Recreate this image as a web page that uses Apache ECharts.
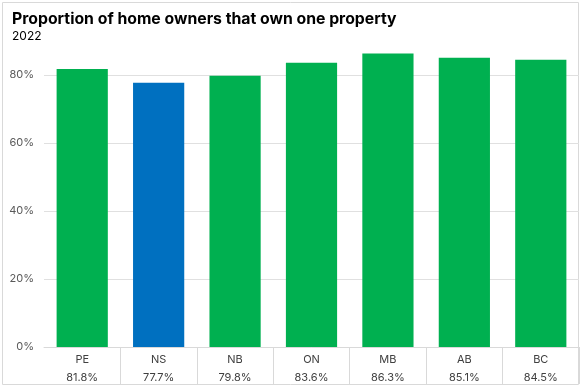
<!DOCTYPE html>
<html><head><meta charset="utf-8">
<script src="https://cdn.jsdelivr.net/npm/echarts@6/dist/echarts.min.js"></script>
<style>html,body{margin:0;padding:0;background:#fff}#c{width:581px;height:387px}</style>
</head><body><div id="c"></div>
<script>
const categories = ['PE','NS','NB','ON','MB','AB','BC'];
const values = [81.8, 77.7, 79.8, 83.6, 86.3, 85.1, 84.5];
const highlight = 'NS';
const yTicks = [0, 20, 40, 60, 80];

const chart = echarts.init(document.getElementById('c'), null, {renderer:'canvas'});
const font = 'Inter, "Noto Sans", sans-serif';
chart.setOption({
  animation: false,
  textStyle: {fontFamily: font},
  title: {
    text: 'Proportion of home owners that own one property',
    subtext: '2022',
    left: 7, top: 6, itemGap: 3,
    textStyle: {fontSize: 15.8, fontWeight: 'bold', color: '#000', fontFamily: font},
    subtextStyle: {fontSize: 12, color: '#000', fontFamily: font}
  },
  graphic: [{type:'rect', shape:{x:2.5,y:2.5,width:576,height:382}, style:{fill:'none', stroke:'#d9d9d9', lineWidth:1}, silent:true}],
  grid: {left: 44, right: 2, top: 41, bottom: 38},
  xAxis: {
    type: 'category', data: categories,
    axisLine: {show: true, lineStyle: {color: '#d9d9d9'}},
    axisTick: {show: true, length: 37, interval: function(i){return i !== 0;}, lineStyle: {color: '#d9d9d9'}},
    axisLabel: {
      interval: 0, margin: 4, color: '#404040', fontSize: 11, lineHeight: 18,
      formatter: function(v, i){ return v + '\n' + values[i].toFixed(1) + '%'; }
    }
  },
  yAxis: {
    type: 'value', min: 0, max: 90, interval: 20,
    axisLine: {show: false}, axisTick: {show: false},
    axisLabel: {color: '#595959', fontSize: 11, margin: 10, showMaxLabel: false,
      formatter: function(v){ return yTicks.indexOf(v) >= 0 ? v + '%' : ''; }},
    splitLine: {show: true, showMaxLine: false, lineStyle: {color: '#e0e0e0'}}
  },
  series: [{
    type: 'bar', barCategoryGap: '33%',
    data: values.map((v, i) => ({value: v, itemStyle: {color: categories[i] === highlight ? '#0070C0' : '#00B050'}}))
  }]
});
</script></body></html>
